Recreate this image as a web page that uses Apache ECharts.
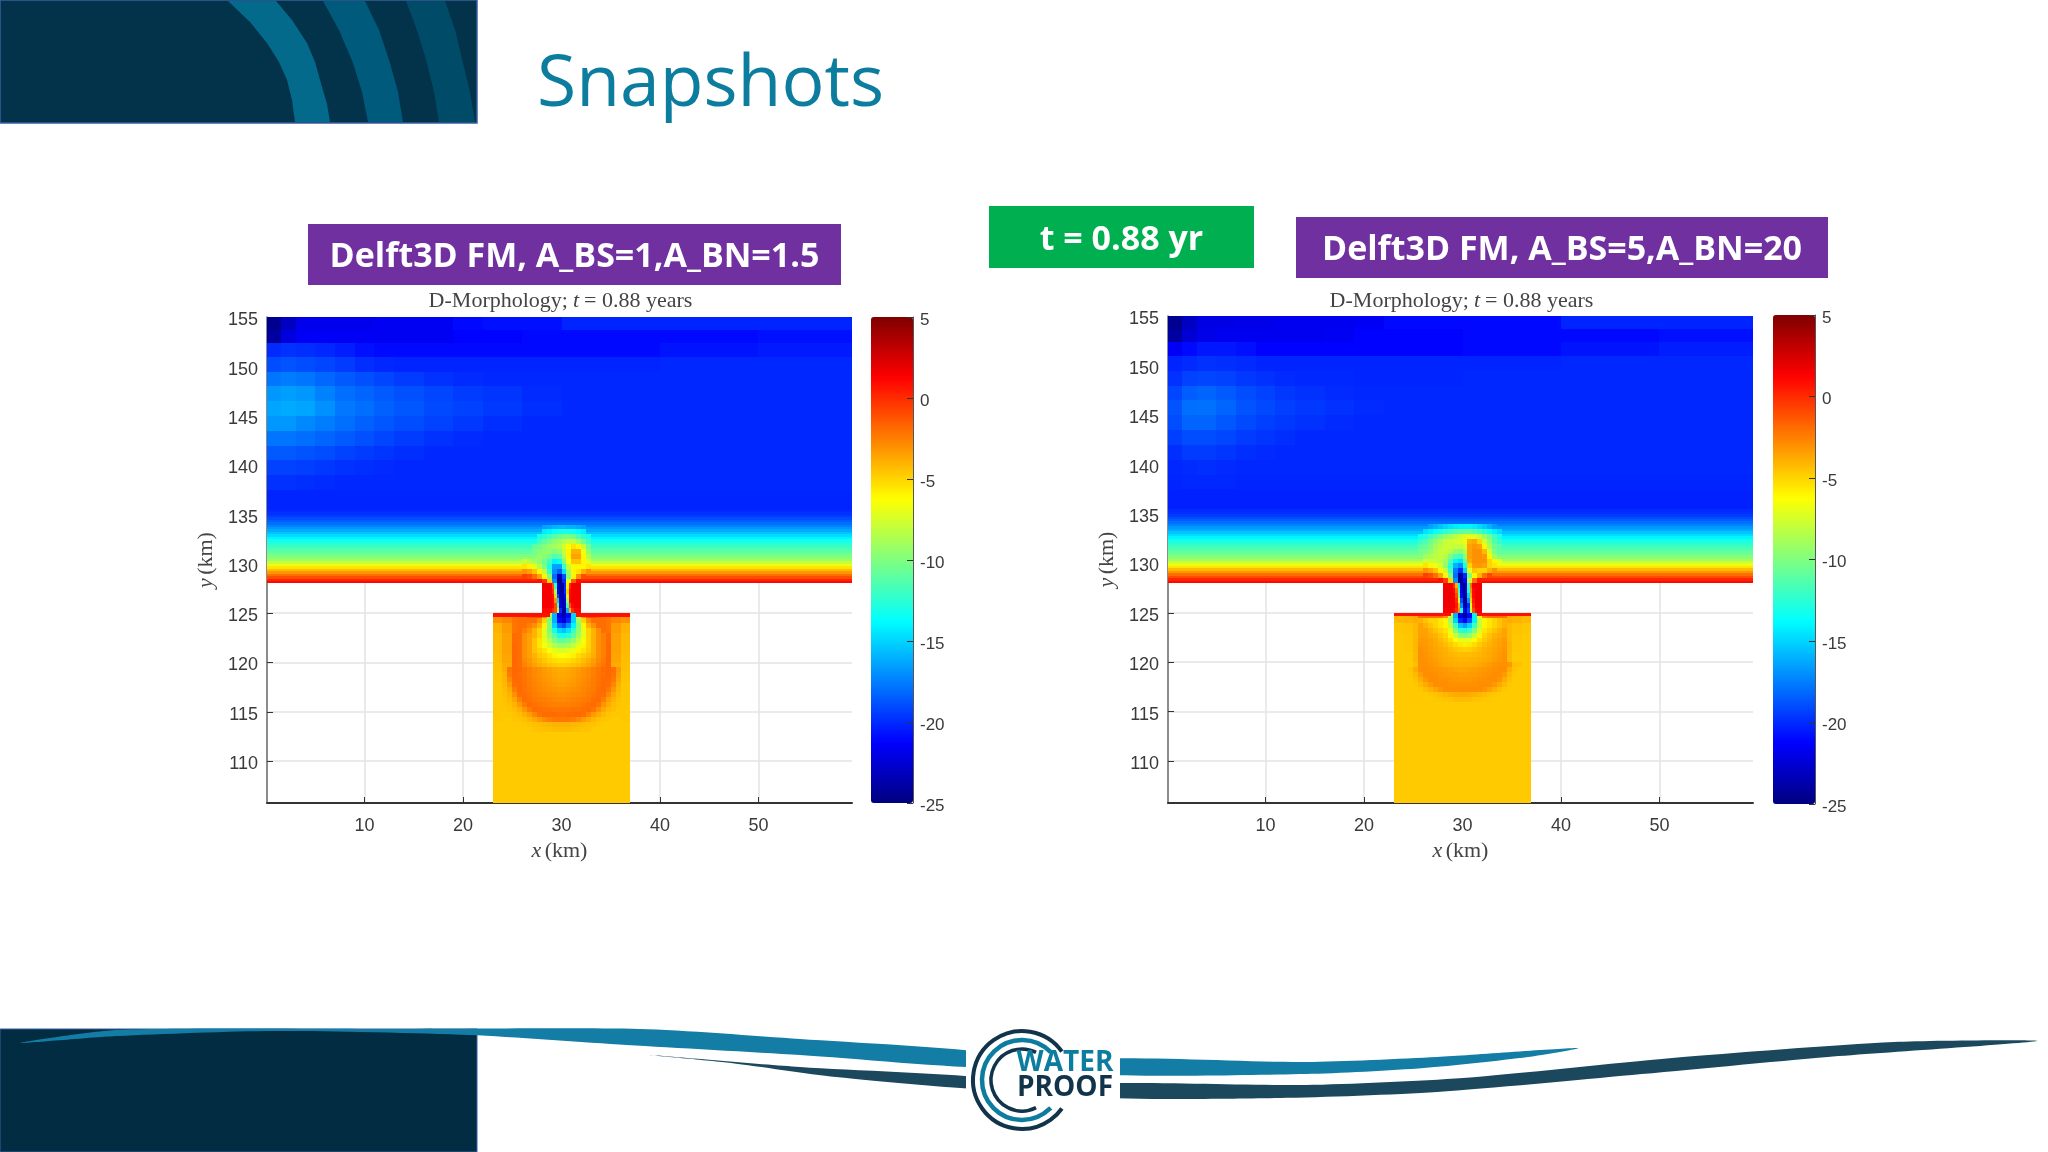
<!DOCTYPE html>
<html>
<head>
<meta charset="utf-8">
<title>Snapshots</title>
<script src="https://cdn.jsdelivr.net/npm/echarts@6/dist/echarts.min.js"></script>
<style>
    html, body {margin: 0; padding: 0; background: #fff;}
    #main {width: 2048px; height: 1152px;}
</style>
</head>
<body>
<div id="main"></div>
<script>
// axis ticks
const xTicks = [10, 20, 30, 40, 50]
const yTicks = [110, 115, 120, 125, 130, 135, 140, 145, 150, 155]

const seaX = [0.09, 1.5, 3, 5, 7, 9, 11, 13, 16, 19, 22, 26, 30, 40, 50, 59.5]
const seaY = [155.05, 153.7, 152.4, 151, 149.5, 148, 146.5, 145, 143.5, 142, 140.5, 139, 137.5, 135.5]
const seaLeft = [
    [-24.5, -23, -21.8, -21.8, -21.8, -21.8, -21.6, -21.6, -21.6, -21, -20.8, -20.8, -20.2, -20.2, -20.2],
    [-24, -22.2, -21.5, -21.5, -21.5, -21.5, -21.6, -21.6, -21.6, -21.2, -21.2, -21, -21, -21, -20.8],
    [-20, -19.8, -19.9, -20.1, -20.4, -20.8, -21, -21, -21, -21, -21, -21, -21, -20.7, -20.5],
    [-19, -18.8, -19, -19.2, -19.5, -19.9, -20.1, -20.2, -20.2, -20.2, -20.2, -20.2, -20.2, -20.1, -20.1],
    [-17.8, -17.6, -17.8, -18.2, -18.6, -18.9, -19.2, -19.5, -19.8, -20, -20.1, -20.1, -20.1, -20.1, -20.1],
    [-16.8, -16.6, -16.8, -17.4, -18, -18.3, -18.6, -18.9, -19.2, -19.5, -19.7, -20, -20.1, -20.1, -20.1],
    [-16.4, -16.2, -16.4, -17, -17.7, -18, -18.4, -18.7, -19.1, -19.3, -19.6, -19.9, -20.1, -20.1, -20.1],
    [-16.8, -16.8, -17.2, -17.6, -18, -18.4, -18.7, -19, -19.3, -19.6, -19.9, -20.1, -20.1, -20.1, -20.1],
    [-17.8, -17.8, -18, -18.3, -18.6, -18.9, -19.2, -19.5, -19.8, -20, -20.1, -20.1, -20.1, -20.1, -20.1],
    [-18.6, -18.6, -18.8, -19, -19.3, -19.5, -19.7, -19.9, -20.1, -20.1, -20.1, -20.1, -20.1, -20.1, -20.1],
    [-19.3, -19.3, -19.4, -19.6, -19.8, -19.9, -20, -20.1, -20.1, -20.1, -20.1, -20.1, -20.1, -20.1, -20.1],
    [-19.8, -19.8, -19.9, -20, -20.1, -20.1, -20.1, -20.1, -20.1, -20.1, -20.1, -20.1, -20.1, -20.1, -20.1],
    [-20.2, -20.2, -20.2, -20.2, -20.2, -20.2, -20.2, -20.2, -20.2, -20.2, -20.2, -20.2, -20.2, -20.2, -20.2]
]
const seaRight = [
    [-24.5, -23, -22, -22, -21.9, -21.9, -21.7, -21.7, -21.7, -21.5, -21, -21, -21, -20.2, -20.2],
    [-24, -22.5, -21.9, -21.7, -21.7, -21.7, -21.7, -21.7, -21.6, -21.2, -21.2, -21.2, -21, -21, -20.8],
    [-21.5, -21, -20.6, -20.6, -20.8, -21.2, -21.2, -21.2, -21.2, -21.2, -21.2, -21.2, -21, -20.7, -20.4],
    [-20.2, -20, -19.8, -19.9, -20, -20.2, -20.2, -20.2, -20.2, -20.2, -20.2, -20.2, -20.2, -20.1, -20.1],
    [-19.8, -19.3, -19.2, -19.3, -19.6, -19.8, -20, -20.1, -20.1, -20.2, -20.2, -20.2, -20.1, -20.1, -20.1],
    [-19.2, -18.5, -18.3, -18.6, -19, -19.3, -19.6, -19.8, -20, -20.1, -20.1, -20.1, -20.1, -20.1, -20.1],
    [-18.8, -18, -17.9, -18.3, -18.8, -19.1, -19.4, -19.6, -19.8, -20, -20.1, -20.1, -20.1, -20.1, -20.1],
    [-19, -18.3, -18.3, -18.7, -19.1, -19.4, -19.6, -19.8, -20, -20.1, -20.1, -20.1, -20.1, -20.1, -20.1],
    [-19.4, -19, -19, -19.2, -19.5, -19.7, -19.9, -20.1, -20.1, -20.1, -20.1, -20.1, -20.1, -20.1, -20.1],
    [-19.9, -19.5, -19.5, -19.7, -19.9, -20, -20.1, -20.1, -20.1, -20.1, -20.1, -20.1, -20.1, -20.1, -20.1],
    [-20.1, -20, -19.9, -20, -20.1, -20.1, -20.1, -20.1, -20.1, -20.1, -20.1, -20.1, -20.1, -20.1, -20.1],
    [-20.2, -20.1, -20.1, -20.1, -20.2, -20.2, -20.2, -20.2, -20.2, -20.2, -20.2, -20.2, -20.2, -20.2, -20.2],
    [-20.3, -20.3, -20.3, -20.3, -20.3, -20.3, -20.3, -20.3, -20.3, -20.3, -20.3, -20.3, -20.3, -20.3, -20.3]
]

// shoreface strip, same in both frames away from the inlet
const bandX = [0.09, 59.5]
const bandY = [135.5, 135.25, 135, 134.75, 134.5, 134.25, 134, 133.75, 133.5, 133.25, 133, 132.75, 132.5, 132.25, 132, 131.75, 131.5, 131.25, 131, 130.75, 130.5, 130.25, 130, 129.75, 129.5, 129.25, 129, 128.75, 128.5, 128.25, 128.05]
const bandValues = [-20, -19.8, -19.5, -19, -18.5, -18, -17.4, -16.8, -16.2, -15.5, -14.8, -14, -13.3, -12.7, -12.2, -11.7, -11.2, -10.8, -10.2, -9.7, -9, -8, -6.8, -5.5, -4.3, -3.2, -2, -1, 0.2, 1]

// ebb delta seaward of the inlet; null leaves the shoreface strip showing
const deltaX = [25.5, 26, 26.5, 27, 27.5, 28, 28.5, 29, 29.5, 30, 30.5, 31, 31.5, 32, 32.5, 33, 33.5, 34, 34.5, 35]
const deltaY = [134, 133.5, 133, 132.5, 132, 131.5, 131, 130.5, 130, 129.5, 129, 128.5, 128.05]
const deltaLeft = [
    [null, null, null, null, null, -16.5, -16.3, -16, -15.8, -15.8, -16, -16, -16.2, -16.5, null, null, null, null, null],
    [null, null, null, null, null, -14.3, -14, -13.5, -13.2, -13, -13, -13.3, -13.8, -14.2, null, null, null, null, null],
    [null, null, null, null, -13, -12.5, -11.8, -11.2, -10.6, -10.2, -10.2, -10.5, -11.5, -12.5, -13, null, null, null, null],
    [null, null, null, null, -11.8, -11, -10.2, -9.5, -9, -8.5, -8, -8, -9, -10.5, -12, null, null, null, null],
    [null, null, null, -11, -10.5, -9.8, -9.3, -9, -8.5, -7.5, -6.5, -5.5, -6, -8, -10.5, null, null, null, null],
    [null, null, null, -10.2, -9.8, -9.5, -9.5, -10, -9.5, -8, -6, -4, -4, -6.5, -9.5, null, null, null, null],
    [null, null, null, null, -9.4, -9.8, -10.5, -11.5, -11, -8.5, -6, -3.5, -3.5, -6, -8.5, null, null, null, null],
    [null, -7.8, -8.2, -8.8, -9.5, -10.5, -12, -14, -13.5, -10, -6.5, -4.5, -4.5, -6, -7, null, null, null, null],
    [null, -5.5, -6, -7, -8.5, -10, -13, -16.5, -16.5, -12, -8, -6, -6, -6, -5.5, null, null, null, null],
    [null, -3, -3.5, -4.5, -6, -8, -12, -17, -18.5, -14.5, -9, -6, -5.5, -4, -3, null, null, null, null],
    [null, -0.6, -1, -2, -3.5, -6, -10, -18, -23.5, -19, -10, -6, -3, -1, null, null, null, null, null],
    [null, null, null, null, 0.8, -0.5, -5, -17, -24.5, -20, -7, -1.5, 0.8, null, null, null, null, null, null]
]
const deltaRight = [
    [null, null, -16.5, -16, -15.5, -15, -14.6, -14.3, -14.1, -14, -14, -14.3, -14.8, -15.3, -16, -16.7, null, null, null],
    [null, -14.7, -14.2, -13.6, -13, -12.4, -11.8, -11.3, -11, -10.8, -10.8, -11.2, -11.8, -12.5, -13.3, -14.2, -14.8, null, null],
    [-13.3, -12.8, -12, -11, -10.2, -9.5, -9, -8.3, -7.7, -7.2, -7, -7.2, -8, -9.2, -10.5, -12, -13, null, null],
    [-12, -11.5, -10.5, -9.5, -8.7, -8, -7.6, -7.5, -7.3, -6.8, -4, -3.7, -5, -7.5, -9.5, -11.3, -12.2, null, null],
    [-11.2, -10.8, -10, -9, -8.2, -7.8, -7.8, -8, -8, -7.5, -3.5, -3.2, -3.5, -6, -8.8, -10.6, -11.3, null, null],
    [-10.3, -10, -9.4, -8.6, -8, -7.8, -8.5, -9.5, -9.8, -8.5, -3.5, -3, -3, -4.2, -7.5, -10, null, null, null],
    [null, -9, -8.7, -8.2, -8, -8.5, -10, -11.5, -12, -9.5, -3.5, -3, -3, -3.2, -6, -9, null, null, null],
    [null, -7.7, -7.9, -8, -8.2, -9.2, -11.5, -14, -14.5, -11, -3.8, -3, -3, -3, -5, -6, -7, null, null],
    [null, -5.4, -6, -6.8, -7.5, -9.5, -12.5, -16, -17, -13, -5, -3.3, -3.2, -3.5, -5, -5.5, null, null, null],
    [null, -3, -3.6, -4.5, -6, -8, -12, -17.5, -20, -15, -7, -4.5, -5, -5, -4, -3, null, null, null],
    [null, -0.6, -1, -2, -3.5, -6, -10, -18, -24, -20, -10, -6, -4, -2, -0.8, null, null, null, null],
    [null, null, null, null, 0.8, -0.5, -5, -17, -24.5, -21, -8, -2, 0.5, null, null, null, null, null, null]
]

// inlet channel between the barrier walls
const inletX = [28, 28.25, 28.5, 28.75, 29, 29.25, 29.5, 29.75, 30, 30.25, 30.5, 30.75, 31, 31.25, 31.5, 31.75, 32]
const inletY = [128.05, 127.5, 127, 126.5, 126, 125.5, 125]
const inletLeft = [
    [1.5, 1.5, 1.5, 1.5, -1, -12, -22, -24, -24, -20, -6, 0, 1.5, 1.5, 1.5, 1.5],
    [1.5, 1.5, 1.5, 1.5, 0, -9, -21, -24, -24, -20, -5, 1, 1.5, 1.5, 1.5, 1.5],
    [1.5, 1.5, 1.5, 1.5, 1, -5, -19, -23.5, -23.5, -21, -7, 1, 1.5, 1.5, 1.5, 1.5],
    [1.5, 1.5, 1.5, 1.5, 1, -3, -15, -23, -24, -22, -9, 1, 1.5, 1.5, 1.5, 1.5],
    [1.5, 1.5, 1.5, 1.5, 1, -1, -11, -22, -24, -23, -12, -1, 1, 1.5, 1.5, 1.5],
    [1, 1, 1, 1, 0, -1, -8, -20, -24, -24, -16, -4, 0, 1, 1, 1]
]
const inletRight = [
    [1.7, 1.7, 1.7, 1.7, 0, -4, -14, -23, -24.5, -22, -12, -2, 1.7, 1.7, 1.7, 1.7],
    [1.7, 1.7, 1.7, 1.7, 1, -2, -12, -22, -24.5, -23, -13, -3, 1, 1.7, 1.7, 1.7],
    [1.7, 1.7, 1.7, 1.7, 1.5, -1, -10, -21, -24.5, -24, -15, -4, 1, 1.7, 1.7, 1.7],
    [1.7, 1.7, 1.7, 1.7, 1.5, 0, -7, -19, -24, -24.5, -17, -5, 0.5, 1.7, 1.7, 1.7],
    [1.7, 1.7, 1.7, 1.7, 1.7, 0.5, -4, -17, -23, -24.5, -20, -7, 0, 1.5, 1.7, 1.7],
    [1.5, 1.5, 1.5, 1.5, 1, 0, -3, -13, -21, -23, -19, -8, -1, 1, 1.5, 1.5]
]

// plume just inside the lagoon
const plumeX = [25.5, 26, 26.5, 27, 27.5, 28, 28.5, 29, 29.5, 30, 30.5, 31, 31.5, 32, 32.5, 33, 33.5, 34, 34.5]
const plumeY = [125, 124.5, 124, 123.5, 123, 122.5, 122, 121.5, 121, 120.5, 120, 119.5]
const plumeLeft = [
    [-2, -2, -1.5, -1, -1, -3, -9, -16, -22, -23.5, -21, -15, -8, -3, -1, -1, -1.5, -2],
    [-2, -2, -2, -2, -3, -5, -10, -16, -21, -22.5, -20, -15, -9, -5, -3, -2, -2, -2],
    [-2, -2, -2.5, -3, -4, -6, -10, -15, -18, -19, -17, -14, -10, -6, -4, -3, -2, -2],
    [-2, -2.5, -3, -4, -5, -7, -10, -13, -15, -15.5, -14.5, -12, -9.5, -7, -5, -4, -3, -2],
    [-2, -3, -3.5, -4, -5, -7, -9.5, -11, -13, -13, -12.5, -11, -9, -7, -5, -4, -3, -2.5],
    [-2, -3, -3.5, -4.5, -5.5, -7, -8.5, -10, -11, -11, -10.5, -9.5, -8, -6.5, -5, -4, -3, -2.5],
    [-2, -3, -3.5, -4.5, -5.5, -6.5, -7.5, -8.5, -9, -9, -8.8, -8, -7, -6, -5, -4, -3, -2.5],
    [-2, -3, -3.5, -4.5, -5, -5.5, -6.5, -7, -7.5, -7.5, -7.2, -6.8, -6, -5.5, -4.8, -4, -3, -2.5],
    [-2, -3, -3.5, -4, -4.7, -5, -5.5, -6, -6.2, -6.3, -6.1, -5.8, -5.2, -4.8, -4.4, -3.8, -3, -2.5],
    [-2, -2.8, -3.2, -3.8, -4.2, -4.6, -5, -5.2, -5.4, -5.4, -5.3, -5, -4.7, -4.3, -3.9, -3.4, -2.8, -2.4],
    [-2, -2.6, -3, -3.5, -3.9, -4.2, -4.5, -4.7, -4.8, -4.8, -4.7, -4.5, -4.3, -4, -3.6, -3.2, -2.6, -2.2]
]
const plumeRight = [
    [-2, -2, -2, -2, -2, -3, -8, -16, -22, -24, -21, -14, -6, -2.5, -2, -2, -2, -2],
    [-4, -4.5, -5, -5, -5.5, -6, -9, -15, -20, -21.5, -19, -14, -8, -6, -5.5, -5, -4.5, -4],
    [-3.5, -4, -4.5, -5, -5.5, -6, -8, -12, -15.5, -16.5, -15, -12, -8, -6, -5.5, -5, -4.5, -4],
    [-3.5, -3.5, -4, -4.5, -5, -5.5, -7, -10, -12.5, -13, -12, -10, -7.5, -5.5, -5, -4.5, -4, -3.5],
    [-3.5, -3.5, -3.8, -4, -4.5, -5, -6, -8, -9.5, -10, -9.5, -8, -6, -5, -4.5, -4, -3.8, -3.5],
    [-3.3, -3.3, -3.5, -3.8, -4.2, -4.7, -5.3, -6.2, -7, -7.3, -7, -6.2, -5.3, -4.7, -4.2, -3.8, -3.5, -3.3],
    [-3.2, -3.3, -3.5, -3.7, -4, -4.3, -4.7, -5.2, -5.6, -5.8, -5.6, -5.2, -4.7, -4.3, -4, -3.7, -3.5, -3.2],
    [-3, -3.2, -3.4, -3.6, -3.8, -4, -4.3, -4.6, -4.8, -4.9, -4.8, -4.6, -4.3, -4, -3.8, -3.6, -3.4, -3.1],
    [-3, -3.1, -3.3, -3.5, -3.7, -3.9, -4.1, -4.2, -4.3, -4.3, -4.3, -4.2, -4.1, -3.9, -3.7, -3.5, -3.3, -3],
    [-3, -3, -3.2, -3.4, -3.6, -3.8, -3.9, -4, -4.1, -4.1, -4, -4, -3.9, -3.8, -3.6, -3.4, -3.2, -3],
    [-3, -3, -3.1, -3.3, -3.5, -3.7, -3.8, -3.9, -3.9, -3.9, -3.9, -3.8, -3.7, -3.5, -3.3, -3.1, -3, -3]
]

// lagoon behind the barrier, coarse cells
const lagoonX = [23, 24, 25, 26, 27, 28, 29, 30, 31, 32, 33, 34, 35, 36, 37]
const lagoonY = [125, 124, 123, 122, 121, 120, 119, 118, 117, 116, 115, 114, 113]
const lagoonLeft = [
    [-3, -2.7, -2.2, -2, -2, -2, -2, -2, -2, -2, -2, -2.2, -2.7, -3],
    [-4, -3.3, -2.2, -2, -2.3, -2.8, -3, -3, -2.8, -2.5, -2, -2.2, -3.3, -4],
    [-4.2, -3.5, -1.9, -2, -2.5, -2.5, -2.5, -2.5, -2.5, -2.5, -2, -1.9, -3.5, -4.2],
    [-4.2, -3.5, -1.8, -2, -2.6, -3, -3.3, -3.3, -3, -2.6, -2, -1.8, -3.5, -4.2],
    [-4.3, -3.6, -1.8, -2.1, -2.6, -3, -3.3, -3.5, -3.2, -2.7, -2.1, -1.8, -3.6, -4.3],
    [-4.4, -3.8, -1.8, -2.2, -2.7, -3, -3.6, -3.7, -3.5, -3, -2.5, -1.8, -3.8, -4.4],
    [-4.5, -4, -2, -2.1, -2.6, -3, -3.5, -3.7, -3.5, -3, -2.6, -2, -4, -4.5],
    [-4.6, -4.2, -2.5, -2, -2.5, -2.9, -3.2, -3.4, -3.2, -2.9, -2.5, -2.4, -4.2, -4.6],
    [-4.6, -4.4, -3.5, -2, -2.3, -2.6, -2.9, -3, -2.9, -2.6, -2.2, -3.2, -4.4, -4.6],
    [-4.6, -4.5, -4.2, -3, -2, -2.2, -2.4, -2.5, -2.4, -2.2, -2.2, -4, -4.5, -4.6],
    [-4.6, -4.6, -4.5, -4.1, -3.4, -2.4, -2, -2, -2.4, -3.4, -4, -4.5, -4.6, -4.6],
    [-4.7, -4.7, -4.7, -4.7, -4.5, -4.4, -4.3, -4.3, -4.4, -4.5, -4.7, -4.7, -4.7, -4.7]
]
const lagoonRight = [
    [-4.2, -4, -3.8, -3.5, -3.5, -3.5, -3.5, -3.5, -3.5, -3.5, -3.5, -3.8, -4, -4.2],
    [-4.6, -4.5, -4.2, -3.8, -3.6, -3.6, -3.6, -3.6, -3.6, -3.6, -3.8, -4.2, -4.5, -4.6],
    [-4.7, -4.6, -4.2, -3.4, -3.2, -3.2, -3.2, -3.2, -3.2, -3.2, -3.4, -4.2, -4.6, -4.7],
    [-4.7, -4.6, -4.1, -3, -3, -3, -3, -3, -3, -3, -3, -4.1, -4.6, -4.7],
    [-4.7, -4.7, -4.2, -3, -3, -3, -3, -3, -3, -3, -3, -4.2, -4.7, -4.7],
    [-4.7, -4.7, -4.4, -3.2, -2.9, -3, -3.4, -3.6, -3.5, -3.1, -2.9, -3.2, -4.4, -4.7],
    [-4.7, -4.7, -4.6, -3.8, -3, -3, -3.2, -3.3, -3.2, -3, -3, -3.8, -4.6, -4.7],
    [-4.7, -4.7, -4.7, -4.4, -3.8, -3.1, -3, -3, -3.1, -3.8, -4.4, -4.7, -4.7, -4.7],
    [-4.7, -4.7, -4.7, -4.7, -4.6, -4.5, -4.3, -4.3, -4.5, -4.6, -4.7, -4.7, -4.7, -4.7],
    [-4.7, -4.7, -4.7, -4.7, -4.7, -4.7, -4.7, -4.7, -4.7, -4.7, -4.7, -4.7, -4.7, -4.7],
    [-4.7, -4.7, -4.7, -4.7, -4.7, -4.7, -4.7, -4.7, -4.7, -4.7, -4.7, -4.7, -4.7, -4.7],
    [-4.7, -4.7, -4.7, -4.7, -4.7, -4.7, -4.7, -4.7, -4.7, -4.7, -4.7, -4.7, -4.7, -4.7]
]

// southern rim of the scour ring, half kilometre cells
const ringX = [24, 24.5, 25, 25.5, 26, 26.5, 27, 27.5, 28, 28.5, 29, 29.5, 30, 30.5, 31, 31.5, 32, 32.5, 33, 33.5, 34, 34.5, 35, 35.5, 36]
const ringYLeft = [119.5, 119, 118.5, 118, 117.5, 117, 116.5, 116, 115.5, 115, 114.5, 114, 113.5]
const ringLeft = [
    [-3.8, -2.2, -1.8, -1.9, -2.2, -2.5, -2.8, -3, -3.3, -3.5, -3.7, -3.8, -3.8, -3.7, -3.5, -3.3, -3, -2.8, -2.5, -2.2, -1.9, -1.8, -2, -3.2],
    [-4, -2.4, -1.8, -2, -2.2, -2.5, -2.8, -3, -3.2, -3.4, -3.6, -3.7, -3.7, -3.6, -3.4, -3.2, -3, -2.8, -2.5, -2.2, -2, -1.8, -2.1, -3.4],
    [-4.1, -2.8, -1.9, -1.9, -2.2, -2.4, -2.7, -2.9, -3.1, -3.3, -3.5, -3.6, -3.6, -3.5, -3.3, -3.1, -2.9, -2.7, -2.4, -2.2, -1.9, -1.9, -2.3, -3.6],
    [-4.2, -3.3, -2, -1.9, -2.1, -2.4, -2.6, -2.8, -3, -3.2, -3.3, -3.4, -3.4, -3.3, -3.2, -3, -2.8, -2.6, -2.4, -2.1, -1.9, -2, -2.7, -3.9],
    [-4.3, -3.7, -2.4, -1.9, -2.1, -2.3, -2.5, -2.7, -2.9, -3, -3.1, -3.2, -3.2, -3.1, -3, -2.9, -2.7, -2.5, -2.3, -2, -1.9, -2.3, -3.2, -4.1],
    [-4.4, -4, -3, -2, -2, -2.2, -2.4, -2.6, -2.7, -2.8, -2.9, -3, -3, -2.9, -2.8, -2.7, -2.6, -2.4, -2.2, -2, -2, -2.8, -3.7, -4.3],
    [-4.5, -4.2, -3.6, -2.6, -1.9, -2.1, -2.3, -2.4, -2.5, -2.6, -2.7, -2.8, -2.8, -2.7, -2.6, -2.5, -2.4, -2.3, -2, -1.9, -2.4, -3.4, -4, -4.4],
    [-4.5, -4.4, -4, -3.3, -2.4, -1.9, -2.1, -2.2, -2.3, -2.4, -2.5, -2.5, -2.5, -2.5, -2.4, -2.3, -2.2, -2, -1.9, -2.2, -3.1, -3.8, -4.3, -4.5],
    [-4.6, -4.5, -4.3, -3.9, -3.2, -2.4, -1.9, -2, -2.1, -2.1, -2.2, -2.2, -2.2, -2.2, -2.1, -2.1, -2, -1.9, -2.2, -3, -3.7, -4.2, -4.4, -4.6],
    [-4.6, -4.6, -4.5, -4.3, -3.9, -3.4, -2.7, -2.1, -1.9, -1.9, -1.9, -2, -2, -1.9, -1.9, -1.9, -2, -2.6, -3.3, -3.8, -4.2, -4.5, -4.6, -4.6],
    [-4.7, -4.7, -4.6, -4.5, -4.4, -4.1, -3.7, -3.3, -2.8, -2.5, -2.3, -2.3, -2.3, -2.3, -2.5, -2.8, -3.3, -3.7, -4.1, -4.4, -4.5, -4.6, -4.7, -4.7],
    [-4.7, -4.7, -4.7, -4.7, -4.6, -4.5, -4.4, -4.3, -4.2, -4.1, -4, -4, -4, -4, -4.1, -4.2, -4.3, -4.4, -4.5, -4.6, -4.7, -4.7, -4.7, -4.7]
]
const ringYRight = [119.5, 119, 118.5, 118, 117.5, 117, 116.5]
const ringRight = [
    [-4.7, -4.5, -3.8, -3, -2.9, -3, -3.1, -3.2, -3.3, -3.4, -3.5, -3.6, -3.6, -3.5, -3.4, -3.3, -3.2, -3.1, -3, -2.9, -2.9, -3.8, -4.5, -4.7],
    [-4.7, -4.6, -4.2, -3.4, -2.9, -2.9, -3, -3.1, -3.2, -3.3, -3.3, -3.4, -3.4, -3.3, -3.3, -3.2, -3.1, -3, -2.9, -2.9, -3.3, -4.2, -4.6, -4.7],
    [-4.7, -4.7, -4.4, -3.9, -3.2, -2.9, -2.9, -3, -3, -3.1, -3.2, -3.2, -3.2, -3.2, -3.1, -3, -3, -2.9, -2.9, -3.1, -3.8, -4.4, -4.7, -4.7],
    [-4.7, -4.7, -4.6, -4.3, -3.8, -3.3, -2.9, -2.9, -2.9, -3, -3, -3, -3, -3, -3, -2.9, -2.9, -2.9, -3.2, -3.7, -4.2, -4.6, -4.7, -4.7],
    [-4.7, -4.7, -4.7, -4.6, -4.3, -4, -3.6, -3.2, -2.9, -2.9, -2.9, -2.9, -2.9, -2.9, -2.9, -2.9, -3.1, -3.5, -3.9, -4.3, -4.6, -4.7, -4.7, -4.7],
    [-4.7, -4.7, -4.7, -4.7, -4.7, -4.6, -4.5, -4.3, -4.1, -3.9, -3.8, -3.7, -3.7, -3.8, -3.9, -4.1, -4.3, -4.5, -4.6, -4.7, -4.7, -4.7, -4.7, -4.7]
]

// flat southern part of the lagoon and its red rim
const lagoonFloorX = [23, 37]
const lagoonFloorY = [113, 105.75]
const lagoonFloor = [[-4.7]]
const rimX = [23, 28.8, 31.5, 37]
const rimY = [125, 124.65]
const rim = [[0.8, null, 0.8]]

const jet = ['#00007f', '#0000ff', '#007fff', '#00ffff', '#7fff7f', '#ffff00', '#ff7f00', '#ff0000', '#7f0000']
const darkBlue = '#02334a'
const teal = '#0c7d9e'
const ribbonDark = '#1c485d'

// one rect per cell: [x0, x1, yTop, yBottom, value]
function addPatch(cells, xs, ys, rows) {
    rows.forEach((row, j) => {
        row.forEach((v, i) => {
            if (v !== null) {
                cells.push([xs[i], xs[i + 1], ys[j], ys[j + 1], v])
            }
        })
    })
}

function buildCells(sea, delta, inlet, plume, lagoon, ringY, ring) {
    const cells = []
    addPatch(cells, seaX, seaY, sea)
    addPatch(cells, bandX, bandY, bandValues.map(v => [v]))
    addPatch(cells, lagoonFloorX, lagoonFloorY, lagoonFloor)
    addPatch(cells, lagoonX, lagoonY, lagoon)
    addPatch(cells, ringX, ringY, ring)
    addPatch(cells, plumeX, plumeY, plume)
    addPatch(cells, rimX, rimY, rim)
    addPatch(cells, deltaX, deltaY, delta)
    addPatch(cells, inletX, inletY, inlet)
    return cells
}

const renderCell = (params, api) => {
    const p0 = api.coord([api.value(0), api.value(2)])
    const p1 = api.coord([api.value(1), api.value(3)])
    const x0 = Math.round(p0[0]), y0 = Math.round(p0[1])
    return {
        type: 'rect',
        shape: {x: x0, y: y0, width: Math.round(p1[0]) - x0, height: Math.round(p1[1]) - y0},
        style: {fill: api.visual('color')}
    }
}

const tickFont = {fontFamily: 'Liberation Sans', fontSize: 18, color: '#3a3a3a'}
// the frame's labels sit a little under their ticks
const lowLabel = v => '{a|' + v + '}'
const lowRich = size => ({a: {fontFamily: 'Liberation Sans', fontSize: size, color: '#3a3a3a', padding: [6, 0, 0, 0]}})
const serifRich = {
    i: {fontFamily: 'Liberation Serif', fontStyle: 'italic', fontWeight: 'normal', fontSize: 22, color: '#444'},
    n: {fontFamily: 'Liberation Serif', fontWeight: 'normal', fontSize: 22, color: '#444'}
}

const panels = [
    {left: 267, top: 317, width: 585, height: 486, barLeft: 871, barTop: 317, barHeight: 486, cells: buildCells(seaLeft, deltaLeft, inletLeft, plumeLeft, lagoonLeft, ringYLeft, ringLeft)},
    {left: 1168, top: 316, width: 585, height: 487, barLeft: 1773, barTop: 315, barHeight: 489, cells: buildCells(seaRight, deltaRight, inletRight, plumeRight, lagoonRight, ringYRight, ringRight)}
]

const grids = [], xAxes = [], yAxes = [], series = [], visualMaps = [], titles = []
panels.forEach((p, k) => {
    const mapGrid = grids.length
    grids.push({left: p.left, top: p.top, width: p.width, height: p.height})
    xAxes.push({
        type: 'value', gridIndex: mapGrid, min: 0.09, max: 59.5,
        axisLine: {onZero: false, lineStyle: {color: '#333', width: 2}},
        axisTick: {inside: true, length: 6, customValues: xTicks, lineStyle: {color: '#333'}},
        axisLabel: Object.assign({customValues: xTicks, margin: 14}, tickFont),
        splitLine: {show: true, lineStyle: {color: '#e3e3e3', width: 1.5}},
        name: '{i|x} {n|(km)}', nameLocation: 'middle', nameGap: 37,
        nameTextStyle: {rich: serifRich}
    })
    yAxes.push({
        type: 'value', gridIndex: mapGrid, min: 105.75, max: 155.05,
        axisLine: {show: true, onZero: false, lineStyle: {color: '#666', width: 1.5}},
        axisTick: {show: true, inside: true, length: 6, customValues: yTicks, lineStyle: {color: '#333'}},
        axisLabel: {customValues: yTicks, margin: 9, formatter: lowLabel, rich: lowRich(18)},
        splitLine: {show: true, lineStyle: {color: '#e3e3e3', width: 1.5}},
        name: '{i|y} {n|(km)}', nameLocation: 'middle', nameGap: 50, nameRotate: 90,
        nameTextStyle: {rich: serifRich}
    })
    series.push({
        type: 'custom', coordinateSystem: 'cartesian2d', xAxisIndex: mapGrid, yAxisIndex: mapGrid,
        renderItem: renderCell, data: p.cells, encode: {x: [0, 1], y: [2, 3]},
        clip: true, silent: true, z: 5
    })
    visualMaps.push({
        type: 'continuous', min: -25, max: 5, seriesIndex: k, dimension: 4,
        inRange: {color: jet}, left: p.barLeft, top: p.barTop, padding: 0,
        itemWidth: 42, itemHeight: p.barHeight, text: ['', ''], calculable: false, realtime: false, z: 4, silent: true
    })
    // colour bar scale, drawn over the visualMap strip
    const barGrid = grids.length
    grids.push({left: p.barLeft, top: p.barTop, width: 42, height: p.barHeight})
    xAxes.push({type: 'value', gridIndex: barGrid, min: 0, max: 1, show: false})
    yAxes.push({
        type: 'value', gridIndex: barGrid, min: -25, max: 5, interval: 5, position: 'right', z: 10,
        axisLine: {show: true, onZero: false, lineStyle: {color: '#555'}},
        axisTick: {show: true, inside: true, length: 6, lineStyle: {color: '#333'}},
        axisLabel: {margin: 7, formatter: lowLabel, rich: lowRich(17)},
        splitLine: {show: false}
    })
    titles.push({
        text: '{n|D-Morphology;} {i|t} {n|= 0.88 years}',
        left: p.left + p.width / 2 - 4, top: 285, textAlign: 'center',
        textStyle: {fontWeight: 'normal', rich: serifRich}
    })
})

const box = (x, y, w, h, fill, text) => ([
    {type: 'rect', shape: {x: x, y: y, width: w, height: h}, style: {fill: fill}, silent: true},
    {type: 'text', x: x + w / 2, y: y + h / 2 + 3, silent: true, style: {
        text: text, fill: '#fff', align: 'center', verticalAlign: 'middle',
        font: '700 34px "Open Sans"'
    }}
])
const poly = (points, fill, smooth) => ({type: 'polygon', shape: {points: points, smooth: smooth}, style: {fill: fill}, silent: true})
const arcRing = (r, gap, width, color) => ({
    type: 'arc', silent: true,
    shape: {cx: 1022, cy: 1080, r: r, startAngle: -gap, endAngle: gap, clockwise: false},
    style: {stroke: color, lineWidth: width, fill: null}
})

const decor = [
    // header
    {type: 'rect', shape: {x: 0, y: 0, width: 477, height: 123}, style: {fill: darkBlue, stroke: '#3a5fa0', lineWidth: 1.5}, silent: true},
    poly([[228, 1], [250, 22], [267, 43], [279, 62], [287, 80], [292, 100], [295, 122], [330, 122], [327, 104], [322, 87], [315, 62], [307, 43], [292, 20], [276, 1]], '#046a8c', 0),
    poly([[323, 1], [339, 30], [353, 63], [362, 92], [368, 122], [403, 122], [398, 92], [390, 63], [379, 30], [365, 1]], '#005a7c', 0),
    poly([[406, 1], [417, 30], [427, 63], [434, 92], [439, 122], [475, 122], [470, 92], [463, 63], [455, 30], [445, 1]], '#004c68', 0),
    {type: 'text', x: 537, y: 86, silent: true, style: {text: 'Snapshots', fill: teal, align: 'left', verticalAlign: 'middle', font: '71.5px "Open Sans"'}},
    // footer
    {type: 'rect', shape: {x: 0, y: 1029, width: 477, height: 123}, style: {fill: '#012c42', stroke: '#3a5fa0', lineWidth: 1}, silent: true},
    poly([[20, 1043], [118, 1030], [400, 1029], [640, 1029], [800, 1039], [1000, 1054], [1000, 1068], [800, 1055], [627, 1045], [470, 1035], [274, 1031], [118, 1036]], '#147da6', 0.25),
    poly([[1090, 1059], [1306, 1062], [1437, 1057], [1578, 1048], [1528, 1057], [1424, 1068], [1306, 1074], [1090, 1074]], '#147da6', 0.25),
    poly([[650, 1055], [800, 1067], [1000, 1079], [1000, 1090], [836, 1077], [731, 1063]], ribbonDark, 0.25),
    poly([[1090, 1084], [1306, 1085], [1463, 1078], [1672, 1058], [1894, 1042], [2037, 1041], [1828, 1057], [1632, 1075], [1437, 1092], [1280, 1098], [1090, 1097]], ribbonDark, 0.25),
    // gap in the ribbons around the logo
    {type: 'rect', shape: {x: 966, y: 1029, width: 154, height: 80}, style: {fill: '#fff'}, silent: true},
    arcRing(49, 0.62, 4, '#12344a'),
    arcRing(40, 0.77, 4.5, teal),
    arcRing(31, 1.1, 3.5, '#12344a'),
    {type: 'rect', shape: {x: 960, y: 1010, width: 130, height: 19}, style: {fill: '#fff'}, silent: true},
    {type: 'text', x: 1065, y: 1063, silent: true, style: {text: 'WATER', fill: teal, align: 'center', verticalAlign: 'middle', font: '700 28px "Open Sans"'}},
    {type: 'text', x: 1065, y: 1088, silent: true, style: {text: 'PROOF', fill: '#12344a', align: 'center', verticalAlign: 'middle', font: '700 28px "Open Sans"'}}
].concat(
    box(308, 224, 533, 61, '#7030a0', 'Delft3D FM, A_BS=1,A_BN=1.5'),
    box(989, 206, 265, 62, '#00b050', 't = 0.88 yr'),
    box(1296, 217, 532, 61, '#7030a0', 'Delft3D FM, A_BS=5,A_BN=20')
)

const myChart = echarts.init(document.getElementById('main'), null, {renderer: 'canvas'})
myChart.setOption({
    backgroundColor: '#fff',
    animation: false,
    title: titles,
    grid: grids,
    xAxis: xAxes,
    yAxis: yAxes,
    visualMap: visualMaps,
    series: series,
    graphic: {elements: decor}
})
</script>
</body>
</html>
